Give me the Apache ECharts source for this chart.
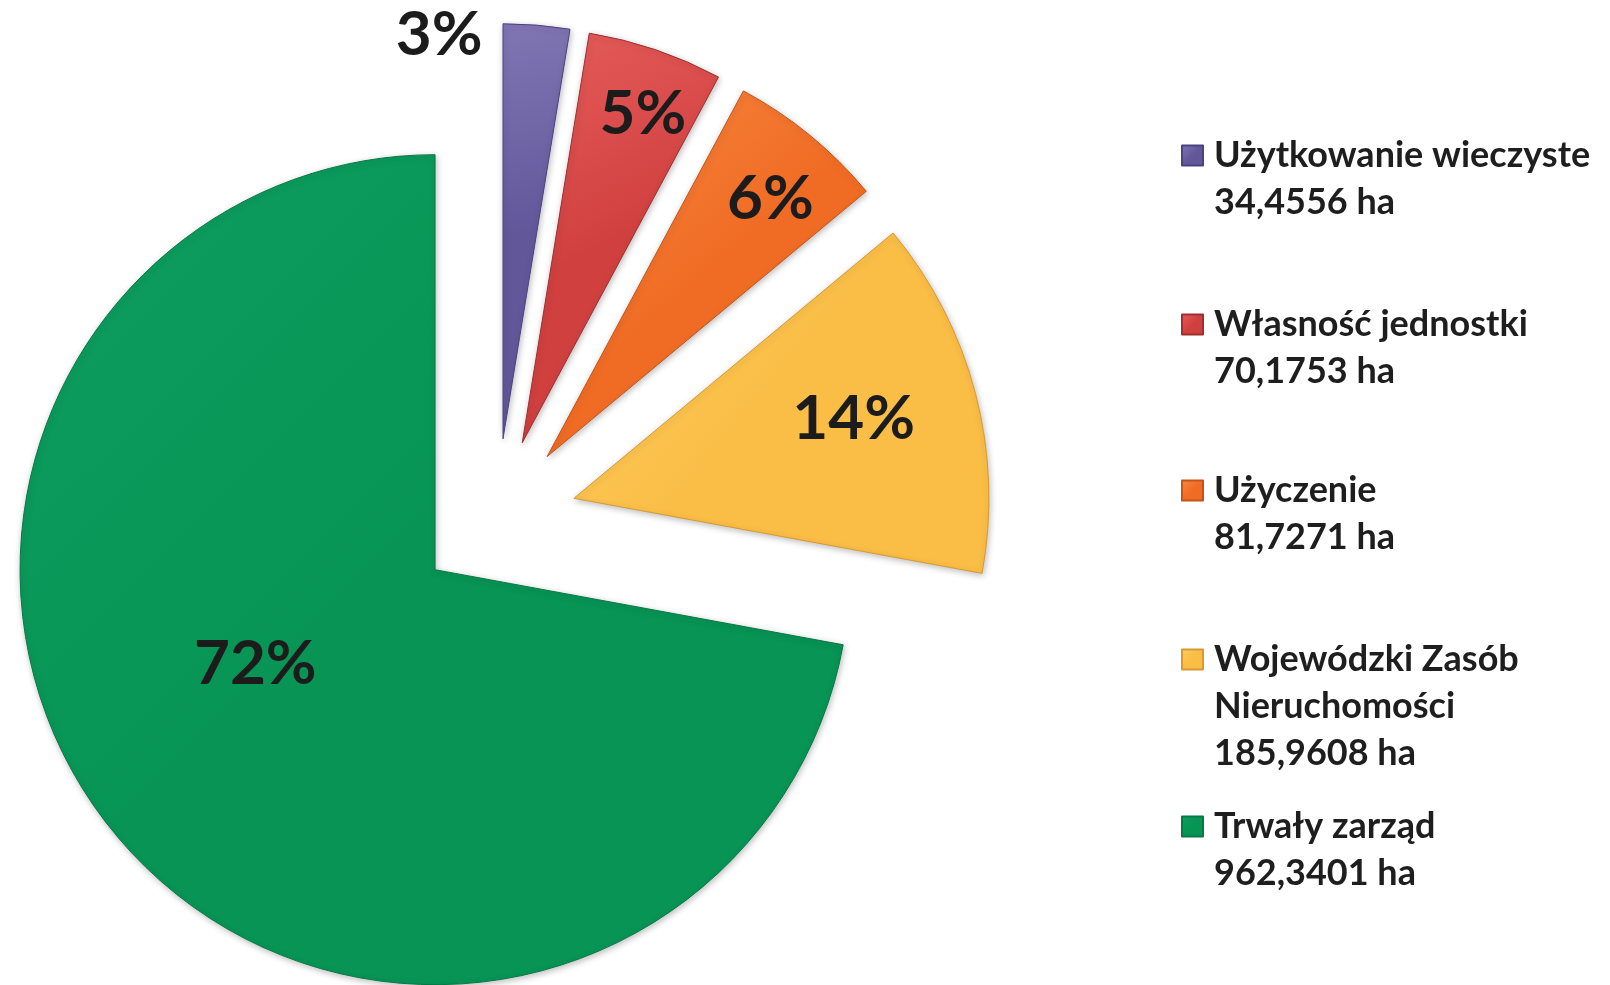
<!DOCTYPE html>
<html>
<head>
<meta charset="utf-8">
<style>
  html, body { margin: 0; padding: 0; background: #ffffff; }
  #chart { width: 1610px; height: 985px; }
</style>
<script src="https://cdn.jsdelivr.net/npm/echarts@6/dist/echarts.min.js"></script>
</head>
<body>
<div id="chart"></div>
<script>
// ---- data ----
const categories = ['Użytkowanie wieczyste', 'Własność jednostki', 'Użyczenie', 'Wojewódzki Zasób Nieruchomości', 'Trwały zarząd'];
const legendLines = [['Użytkowanie wieczyste'], ['Własność jednostki'], ['Użyczenie'], ['Wojewódzki Zasób', 'Nieruchomości'], ['Trwały zarząd']];
const values = [34.4556, 70.1753, 81.7271, 185.9608, 962.3401];
const unit = 'ha';

// ---- styling ----
const colors = [
  ['#8176b4', '#625799', '#4b4280'],
  ['#e65d5b', '#d0403f', '#9e2f31'],
  ['#f98944', '#f06c24', '#c4541a'],
  ['#fdcd60', '#fabd45', '#d89a30'],
  ['#0e9e60', '#079454', '#057a45']
];
const labelShift = [[-81, -194], [53, -129], [90, -95], [76, -26], [-18, -40]];
const legendTops = [85, 254, 420, 542, 756];
const FONT = 'Lato, "Open Sans", sans-serif';

function fmt(v) { return v.toFixed(4).replace('.', ',') + ' ' + unit; }

const chart = echarts.init(document.getElementById('chart'), null, { renderer: 'canvas' });

const seriesData = categories.map((name, i) => ({
  name: name,
  value: values[i],
  selected: true,
  itemStyle: {
    color: new echarts.graphic.LinearGradient(0, 0, 1, 1, [
      { offset: 0, color: colors[i][0] },
      { offset: 0.5, color: colors[i][1] },
      { offset: 1, color: colors[i][1] }
    ]),
    borderColor: colors[i][2],
    borderWidth: 1
  }
}));

const legends = categories.map((name, i) => {
  const lines = legendLines[i].concat([fmt(values[i])]);
  const blanks = new Array(lines.length - 1).fill('');
  return {
    data: [name],
    orient: 'vertical',
    left: 1181,
    top: legendTops[i],
    padding: 0,
    itemWidth: 21,
    itemHeight: 20,
    icon: 'rect',
    selectedMode: false,
    formatter: () => blanks.concat(lines).join('\n'),
    textStyle: {
      fontFamily: FONT,
      fontWeight: 'bold',
      fontSize: 36,
      lineHeight: 47,
      color: '#1e1e1e',
      padding: [0, 0, 0, 6]
    }
  };
});

chart.setOption({
  animation: false,
  backgroundColor: '#ffffff',
  color: colors.map(c => c[1]),
  legend: legends,
  series: [{
    type: 'pie',
    center: ['30.84%', '52.64%'],
    radius: ['0%', 415],
    startAngle: 90,
    clockwise: true,
    selectedMode: 'multiple',
    selectedOffset: 80,
    avoidLabelOverlap: false,
    itemStyle: {
      shadowBlur: 6,
      shadowColor: 'rgba(0,0,0,0.25)',
      shadowOffsetX: 1,
      shadowOffsetY: 2
    },
    label: {
      show: true,
      position: 'inside',
      formatter: p => Math.round(p.percent) + '%',
      fontFamily: FONT,
      fontWeight: 'bold',
      fontSize: 62,
      color: '#1c1c1c'
    },
    labelLine: { show: false },
    labelLayout: p => ({ dx: labelShift[p.dataIndex][0], dy: labelShift[p.dataIndex][1] }),
    emphasis: { disabled: true },
    data: seriesData
  }]
});
</script>
</body>
</html>
